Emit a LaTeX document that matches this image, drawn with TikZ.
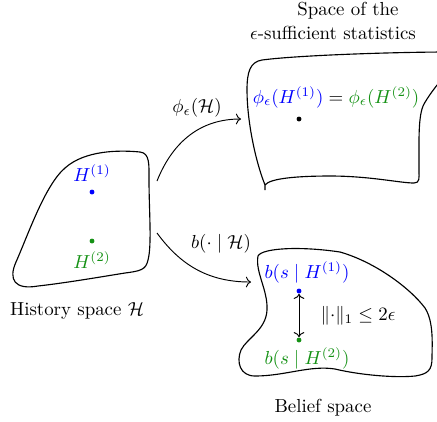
\documentclass[tikz,border=0pt]{standalone}
\usepackage{amsmath,amssymb}
\usepackage{xcolor}
\usepackage{tikz}
\usetikzlibrary{positioning,arrows.meta,calc}
\definecolor{hblue}{RGB}{0,0,255}
\definecolor{hgreen}{RGB}{20,145,20}
\tikzset{
  blob/.style={draw,line width=0.6pt,line join=round},
  pt/.style  ={circle,fill,inner sep=0pt,minimum size=2.6pt},
  lbl/.style ={inner sep=1pt},
  ar/.style  ={->,line width=0.5pt},
}

\begin{document}
\begin{tikzpicture}[x=0.53pt,y=-0.53pt]
\useasboundingbox (0,0) rectangle (437,421);
% history space
\draw[blob] (38,286) .. controls (15,290) and (8,280) .. (16,262)
  .. controls (28,235) and (45,185) .. (65,168)
  .. controls (85,150) and (120,150) .. (140,152)
  .. controls (150,153) and (149,165) .. (149,180)
  .. controls (149,210) and (152,245) .. (148,260)
  .. controls (146,270) and (140,271) .. (125,273)
  .. controls (100,277) and (65,283) .. (38,286) -- cycle;
\node[pt,hblue]  (h1) at (92,192) {};
\node[pt,hgreen] (h2) at (92,241) {};
\node[lbl,hblue,above=3pt of h1]  (h1l) {$H^{(1)}$};
\node[lbl,hgreen,below=3pt of h2] (h2l) {$H^{(2)}$};
\node (hsl) at (77,311) {History space $\mathcal{H}$};
% space of the statistics
\draw[blob] (265,190) -- (265,185)
  .. controls (270,178) and (300,176) .. (330,176)
  .. controls (370,176) and (400,183) .. (414,183)
  .. controls (420,183) and (419,178) .. (419,170)
  .. controls (419,140) and (418,115) .. (424,104)
  .. controls (428,97) and (434,88) .. (448,72)
  -- (448,52) .. controls (400,52) and (300,55) .. (262,60)
  .. controls (250,62) and (247,72) .. (247,90)
  .. controls (247,120) and (255,160) .. (265,185);
\node[pt] (s1) at (299,119) {};
\node[lbl] (s1l) at (336,97) {$\color{hblue}\phi_\epsilon(H^{(1)})\color{black}=\color{hgreen}\phi_\epsilon(H^{(2)})$};
\node (sst1) at (348,11) {Space of the};
\node (sst2) at (333,33) {$\epsilon$-sufficient statistics};
% belief space
\draw[blob] (258,256) .. controls (262,248) and (300,246) .. (340,252)
  .. controls (375,262) and (410,288) .. (425,308)
  .. controls (434,322) and (432,345) .. (432,358)
  .. controls (432,370) and (428,374) .. (415,376)
  .. controls (395,378) and (360,375) .. (335,369)
  .. controls (310,365) and (285,376) .. (255,376)
  .. controls (240,376) and (236,362) .. (241,350)
  .. controls (247,338) and (266,330) .. (267,310)
  .. controls (268,290) and (255,272) .. (258,256) -- cycle;
\node[pt,hblue]  (b1) at (299,291) {};
\node[pt,hgreen] (b2) at (299,340) {};
\node[lbl,hblue]  (b1l) at (307,272) {$b(s\mid H^{(1)})$};
\node[lbl,hgreen] (b2l) at (307,358) {$b(s\mid H^{(2)})$};
\draw[<->,line width=0.5pt] (b1) -- (b2);
\node (nrm) at (358,316) {$\|{\cdot}\|_1\leq 2\epsilon$};
\node (bsl) at (323,408) {Belief space};
% maps
\coordinate (hs-up) at (157,181);
\coordinate (hs-dn) at (157,233);
\coordinate (ss-in) at (241,119);
\coordinate (bs-in) at (251,282);
\draw[ar] (hs-up) .. controls +(16,-40) and +(-40,0) .. (ss-in);
\draw[ar] (hs-dn) .. controls +(22,30) and +(-45,0) .. (bs-in);
\node (phl) at (197,108) {$\phi_\epsilon(\mathcal{H})$};
\node (bl) at (221,244) {$b(\cdot\mid\mathcal{H})$};
\end{tikzpicture}
\end{document}
